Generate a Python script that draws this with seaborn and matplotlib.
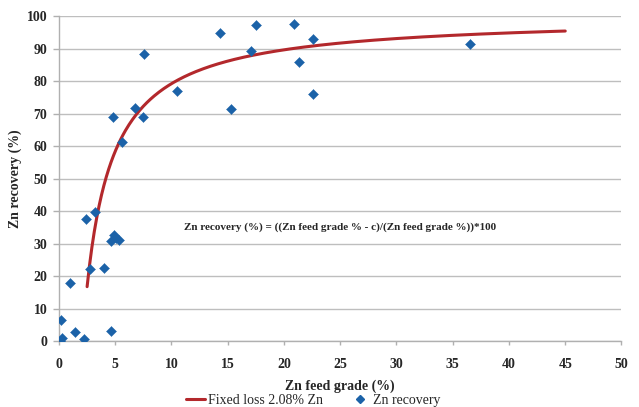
import numpy as np
import pandas as pd
import matplotlib
matplotlib.use("Agg")
import matplotlib.pyplot as plt
from matplotlib.lines import Line2D
import seaborn as sns

# Measured Zn feed grade (%) and Zn recovery (%)
feed_grade = [0.05, 0.25, 0.2, 0.98, 1.42, 2.22, 2.37, 3.23, 2.75, 3.97, 4.59,
              4.6, 4.85, 5.05, 5.3, 4.8, 5.63, 6.78, 7.43, 7.52, 10.49, 14.3,
              15.28, 17.06, 17.5, 20.85, 21.35, 22.6, 22.6, 36.49]
recovery = [0.2, 1.0, 6.5, 18.0, 3.0, 0.6, 37.7, 39.9, 22.2, 22.6, 3.2,
            30.7, 32.6, 31.8, 31.1, 69.1, 61.2, 71.7, 69.1, 88.4, 77.0, 94.9,
            71.5, 89.1, 97.2, 97.4, 85.8, 92.8, 75.9, 91.4]

# Fixed-loss model: recovery = (grade - c) / grade * 100
fixed_loss = 2.08
model_start, model_end = 2.5, 45.0

x_ticks = [0, 5, 10, 15, 20, 25, 30, 35, 40, 45, 50]
y_ticks = [0, 10, 20, 30, 40, 50, 60, 70, 80, 90, 100]

points = pd.DataFrame({"grade": feed_grade, "recovery": recovery})
grade_line = np.linspace(model_start, model_end, 400)
curve = pd.DataFrame({"grade": grade_line,
                      "recovery": (grade_line - fixed_loss) / grade_line * 100})

sns.set_theme(style="white")
plt.rcParams["font.family"] = ["Liberation Serif", "DejaVu Serif"]

fig = plt.figure(figsize=(6.39, 4.07), dpi=100)
ax = fig.add_axes([0.0923, 0.1614, 0.8803, 0.7993])

blue = "#1B62A8"
red = "#B3282C"

sns.lineplot(data=curve, x="grade", y="recovery", ax=ax, color=red,
             linewidth=2.2, zorder=3)
sns.scatterplot(data=points, x="grade", y="recovery", ax=ax, marker="D",
                s=26, color=blue, edgecolor=blue, linewidth=0.3, zorder=4)

ax.set_xlim(0, 50)
ax.set_ylim(0, 100)
ax.set_xticks(x_ticks)
ax.set_yticks(y_ticks)
ax.set_xticklabels([str(t) for t in x_ticks], fontsize=10, fontweight="bold")
ax.set_yticklabels([str(t) for t in y_ticks], fontsize=10, fontweight="bold")
ax.yaxis.grid(True, color="#BEBEBE", linewidth=1.0)
ax.xaxis.grid(False)
ax.set_axisbelow(True)
for side in ("top", "right"):
    ax.spines[side].set_visible(False)
for side in ("left", "bottom"):
    ax.spines[side].set_color("#B0B0B0")
    ax.spines[side].set_linewidth(1.0)
ax.tick_params(axis="x", direction="out", length=3, width=1, color="#B0B0B0",
               pad=9, bottom=True)
ax.tick_params(axis="y", direction="out", length=4.3, width=1,
               color="#B0B0B0", pad=4, left=True)

ax.set_xlabel("Zn feed grade (%)", fontsize=10, fontweight="bold", labelpad=6)
ax.set_ylabel("Zn recovery (%)", fontsize=10, fontweight="bold")
ax.yaxis.set_label_coords(-0.0658, 0.5)

ax.text(25.0, 35.2,
        "Zn recovery (%) = ((Zn feed grade % - c)/(Zn feed grade %))*100",
        ha="center", va="center", fontsize=8, fontweight="bold")

handles = [Line2D([0], [0], color=red, linewidth=2.2),
           Line2D([0], [0], marker="D", linestyle="none", color=blue,
                  markersize=4)]
fig.legend(handles, ["Fixed loss 2.08% Zn", "Zn recovery"],
           loc="center", bbox_to_anchor=(0.49, 0.017), ncol=2, frameon=False,
           fontsize=10, handlelength=1.4, handletextpad=0.2,
           columnspacing=2.0)

fig.savefig("out.png", dpi=100)
